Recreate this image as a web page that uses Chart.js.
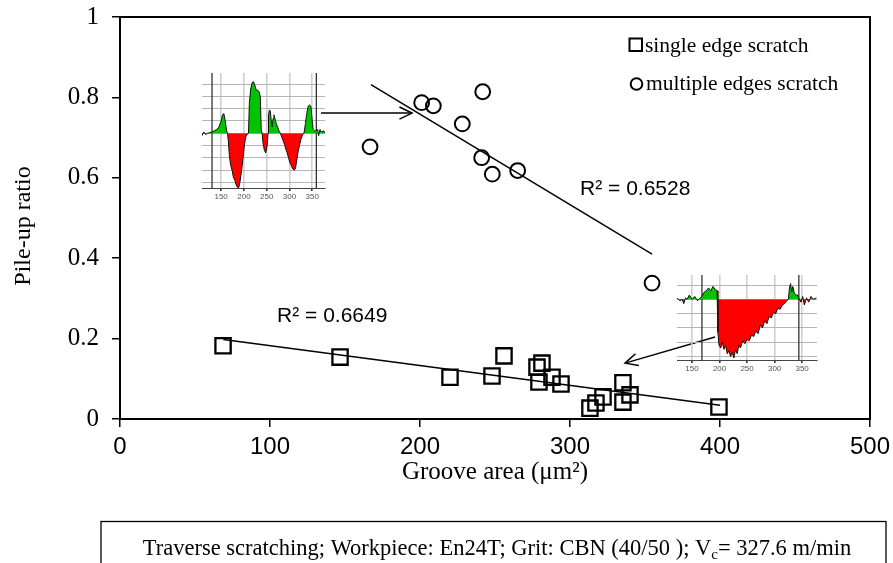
<!DOCTYPE html>
<html><head><meta charset="utf-8">
<script src="https://cdn.jsdelivr.net/npm/chart.js@4.4.1/dist/chart.umd.min.js"></script>
<style>
html,body{margin:0;padding:0;background:#fff;}
#wrap{position:relative;width:893px;height:563px;overflow:hidden;background:#fff;}
#main{position:absolute;left:0;top:0;}
#ins1{position:absolute;left:196px;top:68px;}
#ins2{position:absolute;left:672px;top:268px;}
</style></head><body>
<div id="wrap">
<canvas id="main" width="893" height="563"></canvas>
<canvas id="ins1" width="135" height="137"></canvas>
<canvas id="ins2" width="150" height="110"></canvas>
</div>
<script>
// ---- data ----
const singleX = [68.7, 146.7, 220, 248, 256, 278, 281.3, 279.3, 288, 294, 313.3, 317.3, 322, 335.3, 335.3, 340, 399.3];
const singleY = [0.182, 0.154, 0.104, 0.107, 0.157, 0.129, 0.139, 0.092, 0.104, 0.087, 0.027, 0.040, 0.055, 0.090, 0.042, 0.060, 0.030];
const multiX = [166.7, 201.1, 208.9, 241.8, 228.2, 241.1, 248.2, 265.1, 354.7];
const multiY = [0.677, 0.787, 0.779, 0.814, 0.734, 0.650, 0.609, 0.618, 0.338];
const singleFitX = [68.9, 400];
const singleFitY = [0.198, 0.034];
const multiFitX = [167.3, 354.7];
const multiFitY = [0.832, 0.410];
const xTicks = [0, 100, 200, 300, 400, 500];
const yTicks = [0, 0.2, 0.4, 0.6, 0.8, 1];
const seriesLabels = ['single edge scratch', 'multiple edges scratch'];
const r2Labels = ['R² = 0.6649', 'R² = 0.6528'];
const r2AnchorX = [141.5, 343.5];
const r2AnchorY = [0.256, 0.572];
const arrowFromX = [134, 396.7];
const arrowFromY = [0.761, 0.204];
const arrowToX = [194.7, 336.7];
const arrowToY = [0.761, 0.139];
const xTitle = 'Groove area (μm²)';
const yTitle = 'Pile-up ratio';
const captionMain = 'Traverse scratching; Workpiece: En24T; Grit: CBN (40/50 ); V';
const captionSub = 'c';
const captionEnd = '= 327.6 m/min';

// inset profiles
const prof1X = [108,112,116,120,125,130,135,140,145,150,153,156,159,162,164,166,168,171,174,177,180,183,186,189,192,195,198,201,204,207,210,212,215,218,221,224,227,230,233,236,238,240,242,245,248,251,253,254,256,258,260,262,264,266,268,271,274,277,280,283,286,289,292,295,298,301,304,307,310,313,316,319,322,325,329,332,335,338,341,344,347,350,352,355,358,362,364,367,370,375,378];
const prof1Y = [-0.2,0.1,-0.1,0.0,0.05,0.1,0.2,0.3,0.5,1.0,1.5,1.6,1.0,0.2,0,-0.7,-1.8,-2.6,-3.0,-3.6,-3.8,-4.2,-4.4,-4.4,-3.8,-3.0,-2.0,-1.0,-0.3,-0.1,0,2.5,3.6,4.1,4.2,3.9,3.5,3.5,3.4,3.0,0.3,0,-0.8,-1.4,-1.6,-1.0,0,1.5,1.9,1.8,1.0,0.5,1.2,1.5,1.2,0.8,0.5,0.2,0,-0.3,-0.6,-0.9,-1.3,-1.6,-2.0,-2.4,-2.6,-2.9,-3.0,-2.9,-2.2,-1.5,-1.0,-0.5,-0.1,0,0.8,1.6,2.2,2.3,2.2,1.0,0.3,0.2,0.2,0.3,-0.2,0.3,0.1,0.2,0];
const prof2X = [123,128,132,135,138,141,145,150,155,160,165,168,172,176,180,184,188,192,195.5,197,199,202,205,208,211,214,217,220,223,226,229,232,235,238,242,246,250,254,258,262,266,270,274,278,282,286,290,294,298,302,306,310,314,318,322,325,327,329,331,333,336,339,342,345,348,351,354,358,362,366,370,376];
const prof2Y = [0.1,-0.1,0.0,-0.3,0.1,0.0,0.3,0.0,0.2,-0.1,0.1,0.2,0.5,0.6,0.8,0.6,0.9,0.7,0.6,-2.3,-3.2,-3.4,-3.0,-3.5,-3.2,-3.8,-3.6,-4.0,-3.7,-4.1,-3.5,-3.8,-3.2,-3.4,-2.9,-3.1,-2.8,-2.9,-2.5,-2.6,-2.2,-2.4,-1.8,-2.0,-1.5,-1.7,-1.2,-1.3,-0.9,-1.0,-0.6,-0.7,-0.4,-0.3,-0.1,0.0,0.8,1.1,0.5,0.9,0.4,0.3,0.3,0.0,-0.2,0.2,-0.4,0.1,-0.2,0.2,0.0,0.1];
const ins1Cursor = [130, 359];
const ins2Cursor = [168, 344];
const insTicks = [150, 200, 250, 300, 350];

const pts = (xs, ys) => xs.map((x, i) => ({x, y: ys[i]}));
const SERIF = '"Liberation Serif", "Times New Roman", serif';
const SANS = '"Liberation Sans", Arial, sans-serif';

function noPad(s) { s.paddingTop = 0; s.paddingBottom = 0; s.paddingLeft = 0; s.paddingRight = 0; }

function arrow(ctx, x1, y1, x2, y2) {
  ctx.beginPath(); ctx.moveTo(x1, y1); ctx.lineTo(x2, y2); ctx.stroke();
  const a = Math.atan2(y2 - y1, x2 - x1), L = 14, w = 0.45;
  ctx.beginPath();
  ctx.moveTo(x2 - L * Math.cos(a - w), y2 - L * Math.sin(a - w));
  ctx.lineTo(x2, y2);
  ctx.lineTo(x2 - L * Math.cos(a + w), y2 - L * Math.sin(a + w));
  ctx.stroke();
}

const decor = {
  id: 'decor',
  afterDatasetsDraw(chart) {
    const {ctx, chartArea: ca, scales: {x, y}} = chart;
    ctx.save();
    // frame
    ctx.strokeStyle = '#000'; ctx.lineWidth = 2;
    ctx.strokeRect(ca.left, ca.top, ca.right - ca.left, ca.bottom - ca.top);
    // y axis title
    ctx.fillStyle = '#000';
    ctx.save();
    ctx.translate(24, 226); ctx.rotate(-Math.PI / 2);
    ctx.font = '24px ' + SERIF; ctx.textAlign = 'center'; ctx.textBaseline = 'middle';
    ctx.fillText(yTitle, 0, 0);
    ctx.restore();
    // R² labels
    ctx.font = '21px ' + SANS; ctx.textAlign = 'center'; ctx.textBaseline = 'middle';
    r2Labels.forEach((t, i) => ctx.fillText(t, x.getPixelForValue(r2AnchorX[i]), y.getPixelForValue(r2AnchorY[i])));
    // arrows
    ctx.lineWidth = 1.5; ctx.strokeStyle = '#000';
    arrowFromX.forEach((v, i) => arrow(ctx, x.getPixelForValue(v), y.getPixelForValue(arrowFromY[i]), x.getPixelForValue(arrowToX[i]), y.getPixelForValue(arrowToY[i])));
    // legend
    ctx.font = '21.5px ' + SERIF; ctx.textAlign = 'left'; ctx.textBaseline = 'alphabetic';
    ctx.lineWidth = 2;
    ctx.strokeRect(629.5, 38.5, 12.5, 12.5);
    ctx.fillText(seriesLabels[0], 645, 52);
    ctx.beginPath(); ctx.arc(636.5, 84, 5.8, 0, Math.PI * 2); ctx.stroke();
    ctx.fillText(seriesLabels[1], 646, 90);
    // caption box
    ctx.lineWidth = 1.3;
    ctx.strokeRect(101, 521.5, 785, 60);
    const F = 22.5, FS = 15;
    ctx.font = F + 'px ' + SERIF;
    const w1 = ctx.measureText(captionMain).width;
    ctx.font = FS + 'px ' + SERIF;
    const w2 = ctx.measureText(captionSub).width;
    ctx.font = F + 'px ' + SERIF;
    const w3 = ctx.measureText(captionEnd).width;
    let cx = 497 - (w1 + w2 + w3) / 2;
    const by = 555;
    ctx.fillText(captionMain, cx, by); cx += w1;
    ctx.font = FS + 'px ' + SERIF; ctx.fillText(captionSub, cx, by + 4); cx += w2;
    ctx.font = F + 'px ' + SERIF; ctx.fillText(captionEnd, cx, by);
    ctx.restore();
  }
};

new Chart(document.getElementById('main'), {
  type: 'scatter',
  data: {
    datasets: [
      {label: seriesLabels[0], data: pts(singleX, singleY), pointStyle: 'rect', pointRadius: 10.8, pointBorderWidth: 2.3, borderColor: '#000', backgroundColor: 'rgba(0,0,0,0)', pointHoverRadius: 10.8},
      {label: seriesLabels[1], data: pts(multiX, multiY), pointStyle: 'circle', pointRadius: 7.4, pointBorderWidth: 2, borderColor: '#000', backgroundColor: 'rgba(0,0,0,0)', pointHoverRadius: 7.4},
      {label: 'fit1', data: pts(singleFitX, singleFitY), showLine: true, pointRadius: 0, borderColor: '#000', borderWidth: 1.5, fill: false},
      {label: 'fit2', data: pts(multiFitX, multiFitY), showLine: true, pointRadius: 0, borderColor: '#000', borderWidth: 1.5, fill: false}
    ]
  },
  options: {
    responsive: false, animation: false, devicePixelRatio: 1,
    layout: {padding: {left: 0, top: 17, right: 23, bottom: 0}},
    plugins: {legend: {display: false}, tooltip: {enabled: false}},
    scales: {
      x: {
        type: 'linear', min: 0, max: 500,
        afterBuildTicks: s => { s.ticks = xTicks.map(v => ({value: v})); },
        afterFit: s => { s.height = 144; noPad(s); },
        ticks: {font: {family: SANS, size: 24}, color: '#000', padding: 6, maxRotation: 0},
        grid: {drawOnChartArea: false, color: '#000', lineWidth: 1.5, tickLength: 8},
        border: {display: true, color: '#000', width: 2},
        title: {display: true, text: xTitle, font: {family: SERIF, size: 25}, color: '#000', padding: {top: 0, bottom: 76}}
      },
      y: {
        type: 'linear', min: 0, max: 1,
        afterBuildTicks: s => { s.ticks = yTicks.map(v => ({value: v})); },
        afterFit: s => { s.width = 120; noPad(s); },
        ticks: {font: {family: SERIF, size: 25}, color: '#000', padding: 13, callback: v => String(v)},
        grid: {drawOnChartArea: false, color: '#000', lineWidth: 1.5, tickLength: 8},
        border: {display: true, color: '#000', width: 2},
        title: {display: false, text: yTitle}
      }
    }
  },
  plugins: [decor]
});

function inset(id, px, py, cursors, xmin, xmax, ymin, ymax, yGrid, pad, xh) {
  new Chart(document.getElementById(id), {
    type: 'scatter',
    data: {datasets: [
      {data: pts(px, py), showLine: true, pointRadius: 0, borderColor: '#111', borderWidth: 1,
       fill: {target: 'origin', above: '#00c400', below: '#ff0000'}},
      ...cursors.map(c => ({data: [{x: c, y: ymin}, {x: c, y: ymax}], showLine: true, pointRadius: 0, borderColor: '#333', borderWidth: 1.3, fill: false}))
    ]},
    options: {
      responsive: false, animation: false, devicePixelRatio: 1,
      layout: {padding: pad},
      plugins: {legend: {display: false}, tooltip: {enabled: false}},
      scales: {
        x: {type: 'linear', min: xmin, max: xmax,
            afterBuildTicks: s => { s.ticks = insTicks.map(v => ({value: v})); },
            afterFit: s => { s.height = xh; noPad(s); },
            ticks: {font: {family: SANS, size: 8}, color: '#555', padding: 1, maxRotation: 0},
            grid: {color: '#cfcfcf', lineWidth: 1.6, tickLength: 3, tickColor: '#333'},
            border: {display: true, color: '#444', width: 1}},
        y: {type: 'linear', min: ymin, max: ymax,
            afterBuildTicks: s => { s.ticks = yGrid.map(v => ({value: v})); },
            afterFit: s => { s.width = 0; noPad(s); },
            ticks: {display: false},
            grid: {color: '#b5b5b5', lineWidth: 1, drawTicks: false},
            border: {display: false}}
      }
    }
  });
}
inset('ins1', prof1X, prof1Y, ins1Cursor, 108, 378, -4.45, 4.9, [-4,-3,-2,-1,0,1,2,3,4], {left: 6, right: 6, top: 5, bottom: 0}, 17);
inset('ins2', prof2X, prof2Y, ins2Cursor, 122.7, 377, -4.24, 1.7, [-4,-3,-2,-1,0,1], {left: 5, right: 5, top: 7, bottom: 0}, 18);
</script>
</body></html>
